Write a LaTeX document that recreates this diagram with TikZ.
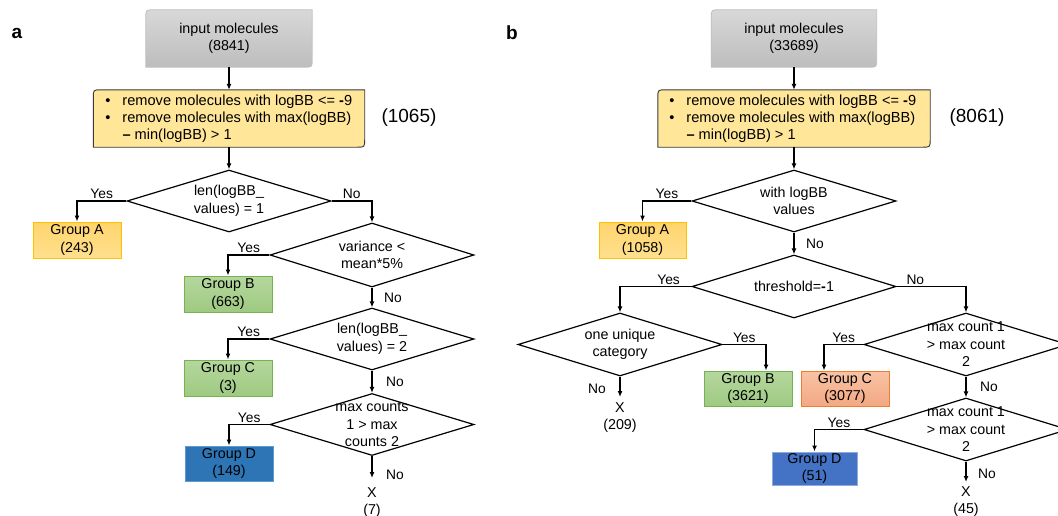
\documentclass[tikz,border=0pt]{standalone}
\usepackage{fontspec}
\setmainfont{Liberation Sans}
\usetikzlibrary{shapes.geometric,arrows.meta,backgrounds}

\definecolor{inTop}{HTML}{D8D8D8}
\definecolor{inBot}{HTML}{BDBDBD}
\definecolor{inLine}{HTML}{BFBFBF}
\definecolor{filtFill}{HTML}{FFE699}
\definecolor{filtLine}{HTML}{3A3A3A}
\definecolor{grpATop}{HTML}{FFD46C}
\definecolor{grpABot}{HTML}{FFE08F}
\definecolor{grpALine}{HTML}{FFC000}
\definecolor{grpBTop}{HTML}{B5D79E}
\definecolor{grpBBot}{HTML}{9FCA82}
\definecolor{grpBLine}{HTML}{74B34E}
\definecolor{grpCTop}{HTML}{F8C3A5}
\definecolor{grpCBot}{HTML}{F3A883}
\definecolor{grpCLine}{HTML}{ED7D31}
\definecolor{grpDaFill}{HTML}{2E75B6}
\definecolor{grpDaLine}{HTML}{5B9BD5}
\definecolor{grpDbFill}{HTML}{4472C4}
\definecolor{grpDbLine}{HTML}{8FAADC}

% box with round top left and bottom right corners, drawn behind node #1
\newcommand{\cornerbox}[2]{%
  \begin{scope}[on background layer]
    \draw[#2] (#1.north east) -- ([yshift=8pt]#1.south east)
      .. controls (#1.south east) .. ([xshift=-8pt]#1.south east)
      -- (#1.south west) -- ([yshift=-8pt]#1.north west)
      .. controls (#1.north west) .. ([xshift=8pt]#1.north west) -- cycle;
  \end{scope}}

\tikzset{
  every node/.style={font=\fontsize{14.3}{17.5}\selectfont},
  panel/.style={font=\fontsize{19}{22}\selectfont\bfseries, inner sep=0pt},
  count/.style={font=\fontsize{19}{22}\selectfont, inner sep=0pt},
  inbox/.style={rectangle, minimum width=166pt, minimum height=57pt, inner sep=0pt, align=center},
  holder/.style={rectangle, minimum width=271pt, minimum height=57pt, inner sep=0pt},
  listtext/.style={font=\fontsize{14.6}{17}\selectfont, align=left, inner sep=0pt},
  inshade/.style={draw=inLine, line width=0.8pt, top color=inTop, bottom color=inBot},
  filtshade/.style={draw=filtLine, line width=0.9pt, fill=filtFill},
  decision/.style={diamond, draw, line width=1.2pt, minimum width=204pt, minimum height=62pt, inner sep=0pt},
  dtext/.style={align=center, inner sep=0pt},
  group/.style={rectangle, draw, line width=1pt, minimum width=88pt, minimum height=36pt, inner sep=0pt, align=center},
  grpA/.style={group, draw=grpALine, top color=grpATop, bottom color=grpABot},
  grpB/.style={group, draw=grpBLine, top color=grpBTop, bottom color=grpBBot},
  grpC/.style={group, draw=grpCLine, top color=grpCTop, bottom color=grpCBot},
  xnode/.style={align=center, inner sep=0pt},
  lab/.style={font=\fontsize{13.8}{16}\selectfont, inner sep=1.5pt},
  arr/.style={line width=1.3pt, -{Latex[length=6pt,width=5pt]}}
}

\begin{document}
\begin{tikzpicture}[x=1pt, y=-1pt]
    % frame of the figure
    \useasboundingbox (0,0) rectangle (1058,515);
    \clip (0,0) rectangle (1058,515);

    % panel letters
    \node[panel] (pa) at (17,33) {a};
    \node[panel] (pb) at (512,33) {b};

    % ----- panel a -----
    % draw boxes
    \node[inbox] (ina) at (229,38.5) {input molecules\\(8841)};
    \cornerbox{ina}{inshade}
    \node[holder] (fa) at (229,118.5) {};
    \cornerbox{fa}{filtshade}
    \node[listtext, anchor=west] (fat) at ([xshift=29pt]fa.west)
      {\llap{\textbullet\hspace{12pt}}remove molecules with logBB <= \textbf{-}9\\
       \llap{\textbullet\hspace{12pt}}remove molecules with max(logBB)\\
       \textbf{–} min(logBB) > 1};
    \node[count] (ca) at (409,118) {(1065)};

    % draw decisions
    \node[decision] (da1) at (229,201) {};
    \node[dtext] (ta1) at (da1) {len(logBB\_\\values) = 1};
    \node[decision, minimum height=64pt] (da2) at (372,255) {};
    \node[dtext] (ta2) at (da2) {variance <\\mean*5\%};
    \node[decision] (da3) at (372,339) {};
    \node[dtext] (ta3) at (da3) {len(logBB\_\\values) = 2};
    \node[decision] (da4) at (372,424.5) {};
    \node[dtext] (ta4) at (da4) {max counts\\1 > max\\counts 2};

    % draw groups
    \node[grpA] (gaA) at (77,240) {Group A\\(243)};
    \node[grpB] (gaB) at (228,294) {Group B\\(663)};
    \node[grpB] (gaC) at (228,378) {Group C\\(3)};
    \node[group, draw=grpDaLine, fill=grpDaFill, minimum height=35pt] (gaD) at (229,463.5) {Group D\\(149)};
    \node[xnode, anchor=north] (xa) at (372,487) {X\\(7)};

    % draw arrows
    \draw[arr] (ina.south) -- (fa.north);
    \draw[arr] (fa.south) -- (da1.north);
    \draw[arr] (da1.west) -| node[lab, above, pos=0.25] {Yes} (gaA.north);
    \draw[arr] (da1.east) -| node[lab, above, pos=0.25] {No} (da2.north);
    \draw[arr] (da2.west) -| node[lab, above, pos=0.25] {Yes} (gaB.north);
    \draw[arr] (da2.south) -- node[lab, right=10pt] {No} (da3.north);
    \draw[arr] (da3.west) -| node[lab, above, pos=0.25] {Yes} (gaC.north);
    \draw[arr] (da3.south) -- node[lab, right=12pt] {No} (da4.north);
    \draw[arr] (da4.west) -| node[lab, above, pos=0.25] {Yes} (gaD.north);
    \draw[arr, shorten >=9pt] (da4.south) -- node[lab, right=12pt, yshift=-3pt] {No} (xa.north);

    % ----- panel b -----
    % draw boxes
    \node[inbox, minimum width=165pt] (inb) at (794,38.5) {input molecules\\(33689)};
    \cornerbox{inb}{inshade}
    \node[holder, minimum width=272pt] (fb) at (794,118.5) {};
    \cornerbox{fb}{filtshade}
    \node[listtext, anchor=west] (fbt) at ([xshift=28.5pt]fb.west)
      {\llap{\textbullet\hspace{12pt}}remove molecules with logBB <= \textbf{-}9\\
       \llap{\textbullet\hspace{12pt}}remove molecules with max(logBB)\\
       \textbf{–} min(logBB) > 1};
    \node[count] (cb) at (977,118) {(8061)};

    % draw decisions
    \node[decision] (db1) at (794,201) {};
    \node[dtext] (tb1) at (db1) {with logBB\\values};
    \node[decision, minimum height=63pt] (db2) at (794,286.5) {};
    \node[dtext] (tb2) at (db2) {threshold=\textbf{-}1};
    \node[decision, minimum height=63pt] (db3) at (620,344.5) {};
    \node[dtext] (tb3) at (db3) {one unique\\category};
    \node[decision, minimum height=63pt] (db4) at (966,344.5) {};
    \node[dtext] (tb4) at (db4) {max count 1\\> max count\\2};
    \node[decision, minimum height=63pt] (db5) at (966,429.5) {};
    \node[dtext] (tb5) at (db5) {max count 1\\> max count\\2};

    % draw groups
    \node[grpA, minimum width=87pt] (gbA) at (642.5,240) {Group A\\(1058)};
    \node[grpB, minimum height=35pt] (gbB) at (748,388.5) {Group B\\(3621)};
    \node[grpC, minimum height=35pt] (gbC) at (845,388.5) {Group C\\(3077)};
    \node[group, draw=grpDbLine, fill=grpDbFill, minimum width=85pt, minimum height=33pt] (gbD) at (814.5,468.5) {Group D\\(51)};
    \node[xnode, anchor=north] (xb1) at (620,402) {X\\(209)};
    \node[xnode, anchor=north] (xb2) at (966,486) {X\\(45)};

    % draw arrows
    \draw[arr] (inb.south) -- (fb.north);
    \draw[arr] (fb.south) -- (db1.north);
    \draw[arr] (db1.west) -| node[lab, above, pos=0.25] {Yes} (gbA.north);
    \draw[arr] (db1.south) -- node[lab, right=10pt] {No} (db2.north);
    \draw[arr] (db2.west) -| node[lab, above, pos=0.16] {Yes} (db3.north);
    \draw[arr] (db2.east) -| node[lab, above, pos=0.135] {No} (db4.north);
    \draw[arr] (db3.east) -| node[lab, above, pos=0.25] {Yes} ([xshift=18pt]gbB.north);
    \draw[arr, shorten >=5pt] (db3.south) -- node[lab, left=12pt] {No} (xb1.north);
    \draw[arr] (db4.west) -| node[lab, above, pos=0.25] {Yes} ([xshift=-21pt]gbC.north);
    \draw[arr] (db4.south) -- node[lab, right=12pt] {No} (db5.north);
    \draw[arr] (db5.west) -| node[lab, above, pos=0.25] {Yes} (gbD.north);
    \draw[arr, shorten >=4pt] (db5.south) -- node[lab, right=10pt] {No} (xb2.north);
\end{tikzpicture}
\end{document}
